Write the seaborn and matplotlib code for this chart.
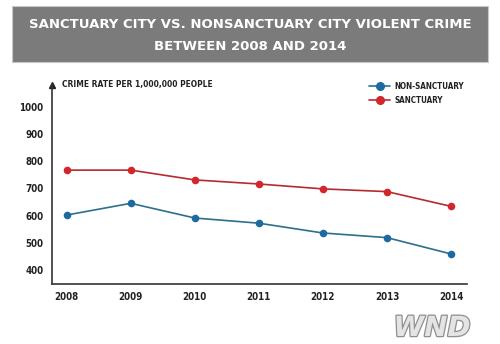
import matplotlib
matplotlib.use("Agg")
import matplotlib.pyplot as plt
import matplotlib.patheffects as pe
from matplotlib.patches import Rectangle
from matplotlib.lines import Line2D
import seaborn as sns
import pandas as pd

years = [2008, 2009, 2010, 2011, 2012, 2013, 2014]
non_sanctuary = [602, 645, 591, 572, 536, 519, 459]
sanctuary = [767, 767, 731, 716, 698, 688, 634]
series_names = ["NON-SANCTUARY", "SANCTUARY"]
y_ticks = [400, 500, 600, 700, 800, 900, 1000]

df = pd.DataFrame({
    "year": years * 2,
    "rate": non_sanctuary + sanctuary,
    "group": [series_names[0]] * len(years) + [series_names[1]] * len(years),
})

sns.set_style("white")
plt.rcParams["font.family"] = ["DejaVu Sans"]
plt.rcParams["font.stretch"] = "condensed"

fig = plt.figure(figsize=(5, 3.44), dpi=100)
ax = fig.add_axes([52/500, 1-284/344, (467-52)/500, (284-85)/344])

palette = {series_names[0]: "#1d6aa3", series_names[1]: "#d3262b"}
line_colors = {series_names[0]: "#2f6e8c", series_names[1]: "#b82a30"}
for name in series_names:
    sub = df[df["group"] == name]
    sns.lineplot(data=sub, x="year", y="rate", ax=ax, color=line_colors[name],
                 linewidth=1.2, legend=False)
    sns.scatterplot(data=sub, x="year", y="rate", ax=ax, color=palette[name],
                    s=30, edgecolor=palette[name], linewidth=0, legend=False, zorder=3)

ax.set_xlim(2007.77, 2014.25)
ax.set_ylim(348.6, 1079.7)
ax.set_xticks(years)
ax.set_xticklabels([str(y) for y in years])
ax.set_yticks(y_ticks)
ax.set_yticklabels([str(v) for v in y_ticks])
ax.set_xlabel("")
ax.set_ylabel("")
for s in ["top", "right"]:
    ax.spines[s].set_visible(False)
for s in ["left", "bottom"]:
    ax.spines[s].set_color("#333333")
    ax.spines[s].set_linewidth(1.2)
ax.tick_params(axis="both", which="major", length=3, width=1, color="#333333",
               labelsize=7, labelcolor="#222222", pad=3)
for lab in ax.get_xticklabels() + ax.get_yticklabels():
    lab.set_fontweight("bold")
    lab.set_fontstretch("condensed")
ax.patch.set_alpha(0)

# arrow head on y axis
ax.plot([0], [1], marker="^", color="#222222", markersize=5, transform=ax.transAxes,
        clip_on=False)
fig.text(62/500, 1-84/344, "CRIME RATE PER 1,000,000 PEOPLE", fontsize=6.0,
         fontweight="bold", fontstretch="condensed", color="#222222",
         va="center", ha="left")

# legend
handles = [Line2D([0], [0], color=line_colors[n], marker="o", markersize=5.5,
                  markerfacecolor=palette[n], markeredgecolor=palette[n], lw=1.2)
           for n in series_names]
leg = ax.legend(handles, series_names, loc="upper left",
                bbox_to_anchor=((362-52)/415, 1.05), frameon=False,
                prop={"family": "DejaVu Sans", "weight": "bold", "size": 5.8,
                      "stretch": "condensed"},
                handlelength=2.6, handletextpad=0.5, labelspacing=0.55)
for t in leg.get_texts():
    t.set_color("#222222")

# title band
fig.patches.append(Rectangle((12/500, 1-62/344), 476/500, 56/344,
                             transform=fig.transFigure, facecolor="#7b7b7b",
                             edgecolor="#c8c8c8", lw=0.8, zorder=0))
for txt, ypix in [("SANCTUARY CITY VS. NONSANCTUARY CITY VIOLENT CRIME", 25),
                  ("BETWEEN 2008 AND 2014", 47)]:
    fig.text(0.5, 1-ypix/344, txt, ha="center", va="center", color="white",
             fontsize=9.5, fontweight="bold", fontstretch="normal",
             family=["DejaVu Sans"])

# WND logo
fig.text(432/500, 1-328/344, "WND", ha="center", va="center", fontsize=20,
         fontweight="bold", style="italic", color="#e4e4e4", fontstretch="normal",
         family=["DejaVu Sans"],
         path_effects=[pe.withStroke(linewidth=1.8, foreground="#8f8f8f")])

fig.savefig("out.png", dpi=100)
